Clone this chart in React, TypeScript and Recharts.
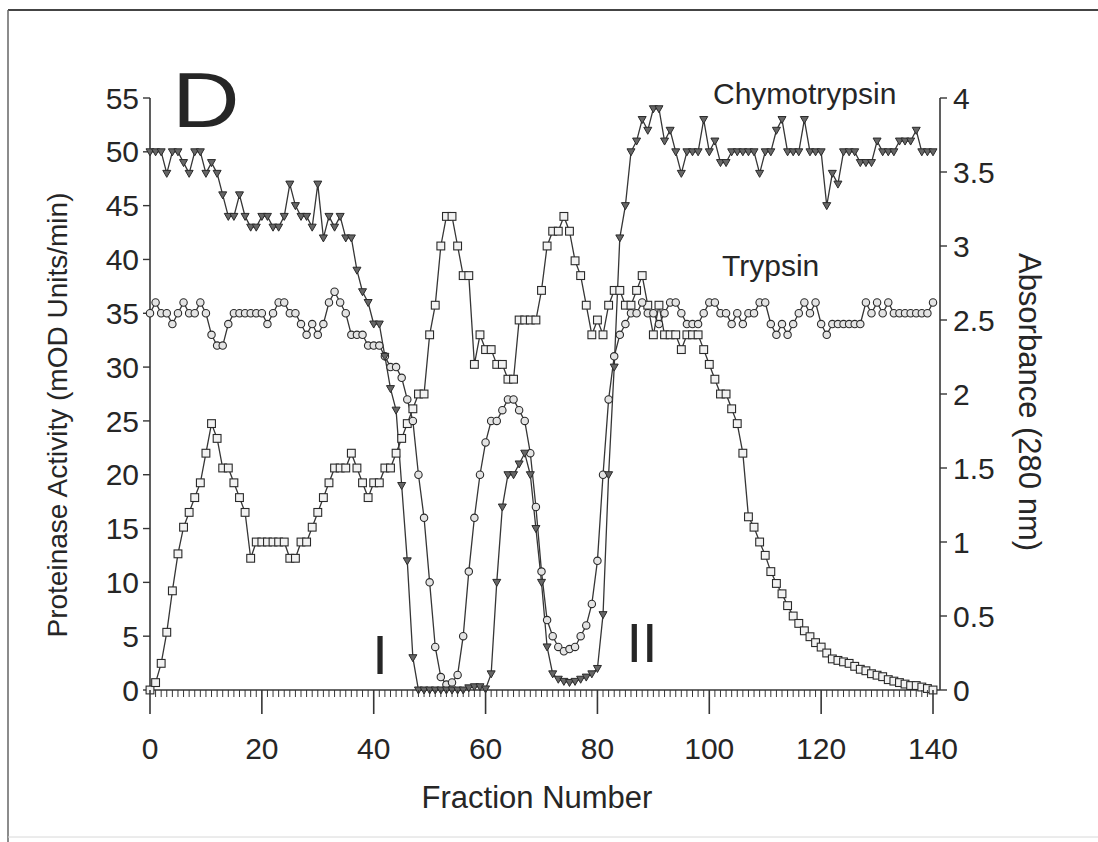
import React from 'react'
import { ComposedChart, Line, XAxis, YAxis } from 'recharts'

// fraction numbers 0..140
const fractions = Array.from({ length: 141 }, (_, i) => i)

// proteinase activity, left axis (mOD units/min)
const chymotrypsin = [
  50, 50, 50, 48, 50, 50, 49, 48, 50, 50,
  48, 49, 48, 46, 44, 44, 46, 44, 43, 43,
  44, 44, 43, 43, 44, 47, 45, 44, 44, 43,
  47, 42, 44, 43, 44, 42, 42, 39, 37, 36,
  34, 34, 31, 28, 26, 19, 12, 3, 0, 0,
  0, 0, 0, 0, 0, 0, 0, 0.2, 0.3, 0.3,
  0.1, 1.5, 10, 17, 20, 20, 21, 22, 20, 15,
  10, 4, 1.5, 1, 0.8, 0.7, 0.8, 1, 1.2, 1.5,
  2, 7, 20, 30, 42, 45, 50, 51, 53, 52,
  54, 54, 51, 52, 50, 48, 50, 50, 50, 53,
  50, 51, 49, 49, 50, 50, 50, 50, 50, 48,
  50, 50, 52, 53, 50, 50, 50, 53, 50, 50,
  50, 45, 48, 47, 50, 50, 50, 49, 49, 49,
  51, 50, 50, 50, 51, 51, 51, 52, 50, 50,
  50
]

const trypsin = [
  35, 36, 35, 35, 34, 35, 36, 35, 35, 36,
  35, 33, 32, 32, 34, 35, 35, 35, 35, 35,
  35, 34, 35, 36, 36, 35, 35, 34, 33, 34,
  33, 34, 36, 37, 36, 35, 33, 33, 33, 32,
  32, 32, 31, 30, 30, 29, 27, 25, 20, 16,
  10, 4, 1.2, 0.5, 0.7, 1.4, 5, 11, 16, 20,
  23, 25, 25, 26, 27, 27, 26, 25, 22, 17,
  11, 6.5, 5, 4, 3.6, 3.8, 4, 5, 6, 8,
  12, 20, 27, 31, 33, 34, 35, 35, 36, 35,
  35, 34, 35, 36, 36, 35, 34, 34, 34, 35,
  36, 36, 35, 35, 34, 35, 34, 35, 35, 36,
  36, 34, 33, 34, 33, 34, 35, 36, 35, 36,
  34, 33, 34, 34, 34, 34, 34, 34, 36, 35,
  36, 35, 36, 35, 35, 35, 35, 35, 35, 35,
  36
]

// absorbance at 280 nm, right axis
const absorbance = [
  0, 0.05, 0.18, 0.39, 0.67, 0.92, 1.1, 1.2, 1.3, 1.4,
  1.6, 1.8, 1.7, 1.5, 1.5, 1.4, 1.3, 1.2, 0.89, 1.0,
  1.0, 1.0, 1.0, 1.0, 1.0, 0.89, 0.89, 1.0, 1.0, 1.1,
  1.2, 1.3, 1.4, 1.5, 1.5, 1.5, 1.6, 1.5, 1.4, 1.3,
  1.4, 1.4, 1.5, 1.5, 1.6, 1.7, 1.8, 1.9, 2.0, 2.0,
  2.4, 2.6, 3.0, 3.2, 3.2, 3.0, 2.8, 2.8, 2.2, 2.4,
  2.3, 2.3, 2.2, 2.2, 2.1, 2.1, 2.5, 2.5, 2.5, 2.5,
  2.7, 3.0, 3.1, 3.1, 3.2, 3.1, 2.9, 2.8, 2.6, 2.4,
  2.5, 2.4, 2.6, 2.7, 2.7, 2.6, 2.6, 2.7, 2.8, 2.6,
  2.4, 2.6, 2.4, 2.4, 2.4, 2.3, 2.4, 2.4, 2.4, 2.3,
  2.2, 2.1, 2.0, 2.0, 1.9, 1.8, 1.6, 1.17, 1.1, 1.0,
  0.91, 0.8, 0.72, 0.65, 0.57, 0.5, 0.45, 0.4, 0.36, 0.32,
  0.29, 0.25, 0.21, 0.2, 0.19, 0.18, 0.16, 0.14, 0.13, 0.11,
  0.1, 0.09, 0.07, 0.06, 0.05, 0.04, 0.03, 0.03, 0.02, 0.01,
  0
]

const activityTicks = [0, 5, 10, 15, 20, 25, 30, 35, 40, 45, 50, 55]
const absorbanceTicks = [0, 0.5, 1, 1.5, 2, 2.5, 3, 3.5, 4]

const data = fractions.map((f, i) => ({
  fraction: f,
  chymotrypsin: chymotrypsin[i],
  trypsin: trypsin[i],
  absorbance: absorbance[i]
}))

const FONT = '"Liberation Sans", Arial, Helvetica, sans-serif'
const INK = '#262626'
const LINE = '#363636'

function FractionTick({ x, y, payload }: any) {
  const v = payload.value
  const major = v % 20 === 0
  return (
    <g>
      <line x1={x} x2={x} y1={y} y2={y + (major ? 24 : 7)} stroke={LINE} strokeWidth={major ? 1.6 : 1} />
      {major && (
        <text x={x} y={y + 69} textAnchor="middle" fontSize={30} fontFamily={FONT} fill={INK}>
          {v}
        </text>
      )}
    </g>
  )
}

function TriangleDot({ cx, cy }: any) {
  if (cx == null || cy == null) return null
  return (
    <path
      d={`M${cx - 4},${cy - 3} L${cx + 4},${cy - 3} L${cx},${cy + 4} Z`}
      fill="#666"
      stroke="#2a2a2a"
      strokeWidth={1}
    />
  )
}

function CircleDot({ cx, cy }: any) {
  if (cx == null || cy == null) return null
  return <circle cx={cx} cy={cy} r={3.7} fill="#e4e4e4" stroke="#2a2a2a" strokeWidth={1.1} />
}

function SquareDot({ cx, cy }: any) {
  if (cx == null || cy == null) return null
  return <rect x={cx - 3.9} y={cy - 3.9} width={7.8} height={7.8} fill="#f2f2f2" stroke="#2a2a2a" strokeWidth={1.1} />
}

export default function App() {
  return (
    <div style={{ position: 'absolute', left: 0, top: 0, width: 1098, height: 842, background: '#fff' }}>
      <ComposedChart
        width={1098}
        height={842}
        data={data}
        margin={{ top: 98, left: 90, right: 98, bottom: 92 }}
      >
        <XAxis
          type="number"
          dataKey="fraction"
          domain={[0, 141.25]}
          ticks={fractions}
          interval={0}
          tick={<FractionTick />}
          tickLine={false}
          tickSize={0}
          tickMargin={0}
          axisLine={{ stroke: LINE, strokeWidth: 1.6 }}
          height={60}
        />
        <YAxis
          yAxisId="left"
          orientation="left"
          domain={[0, 55]}
          ticks={activityTicks}
          interval={0}
          width={60}
          tickSize={7}
          tickMargin={4}
          axisLine={{ stroke: LINE, strokeWidth: 1.6 }}
          tickLine={{ stroke: LINE, strokeWidth: 1.4 }}
          tick={{ fontSize: 30, fontFamily: FONT, fill: INK }}
        />
        <YAxis
          yAxisId="right"
          orientation="right"
          domain={[0, 4]}
          ticks={absorbanceTicks}
          interval={0}
          width={60}
          tickSize={7}
          tickMargin={6}
          axisLine={{ stroke: LINE, strokeWidth: 1.6 }}
          tickLine={{ stroke: LINE, strokeWidth: 1.4 }}
          tick={{ fontSize: 30, fontFamily: FONT, fill: INK, textAnchor: 'start' }}
        />
        <Line
          yAxisId="right"
          type="linear"
          dataKey="absorbance"
          stroke={LINE}
          strokeWidth={1.3}
          dot={(p: any) => <SquareDot key={`a-${p.index}`} {...p} />}
          activeDot={false}
          isAnimationActive={false}
        />
        <Line
          yAxisId="left"
          type="linear"
          dataKey="trypsin"
          stroke={LINE}
          strokeWidth={1.3}
          dot={(p: any) => <CircleDot key={`t-${p.index}`} {...p} />}
          activeDot={false}
          isAnimationActive={false}
        />
        <Line
          yAxisId="left"
          type="linear"
          dataKey="chymotrypsin"
          stroke={LINE}
          strokeWidth={1.3}
          dot={(p: any) => <TriangleDot key={`c-${p.index}`} {...p} />}
          activeDot={false}
          isAnimationActive={false}
        />
      </ComposedChart>

      <svg
        width={1098}
        height={842}
        style={{ position: 'absolute', left: 0, top: 0, pointerEvents: 'none' }}
        fontFamily={FONT}
        fill={INK}
      >
        {/* figure frame */}
        <line x1={8} y1={10} x2={1098} y2={10} stroke="#444" strokeWidth={2} />
        <line x1={8} y1={10} x2={8} y2={842} stroke="#666" strokeWidth={1.5} />
        <line x1={8} y1={837} x2={1098} y2={837} stroke="#d8d8d8" strokeWidth={1} />

        <text x={0} y={0} fontSize={78} transform="translate(172 127) scale(1.2 1)">D</text>
        <text x={713} y={104} fontSize={30}>Chymotrypsin</text>
        <text x={722} y={276} fontSize={30}>Trypsin</text>
        <text x={380} y={674} fontSize={56} textAnchor="middle">I</text>
        <text x={642} y={662} fontSize={56} textAnchor="middle">II</text>

        <text x={537} y={808} fontSize={31} textAnchor="middle">Fraction Number</text>
        <text x={0} y={0} fontSize={28} textAnchor="middle" transform="translate(67 415) rotate(-90)">
          Proteinase Activity (mOD Units/min)
        </text>
        <text x={0} y={0} fontSize={31} textAnchor="middle" transform="translate(1019 402) rotate(90)">
          Absorbance (280 nm)
        </text>
      </svg>
    </div>
  )
}
